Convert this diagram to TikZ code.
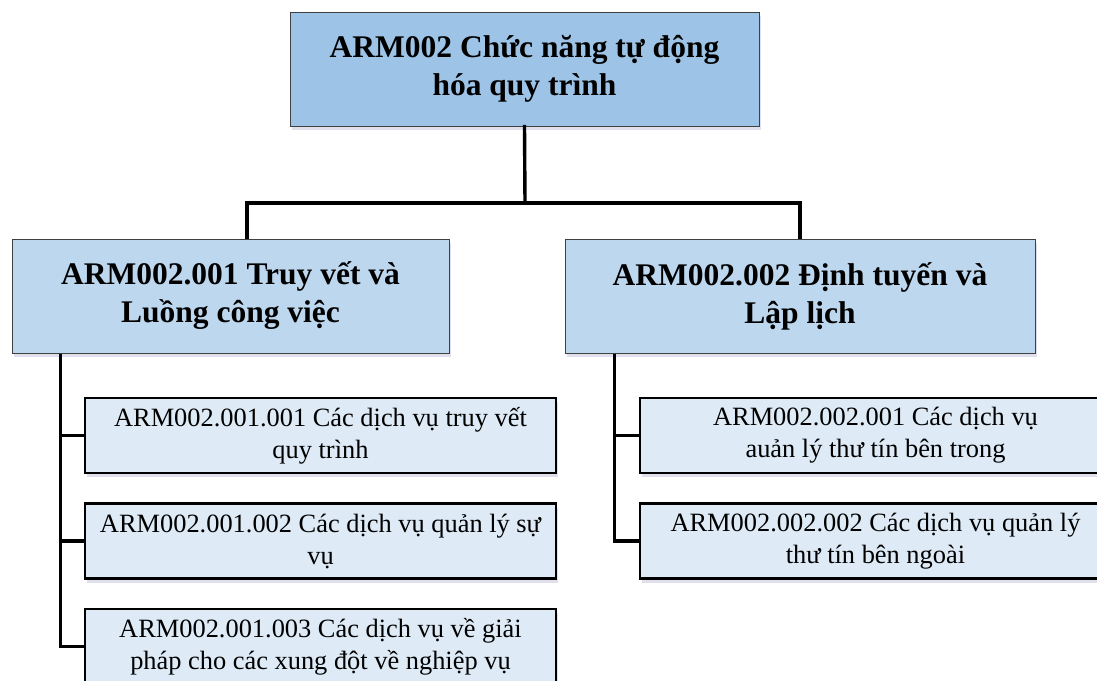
\documentclass[tikz,border=0pt]{standalone}
\usepackage{fontspec}
\setmainfont{Liberation Serif}
\usetikzlibrary{shadows}
\definecolor{topfill}{HTML}{9DC3E6}
\definecolor{midfill}{HTML}{BDD7EE}
\definecolor{leaffill}{HTML}{DEEBF7}
\definecolor{thinedge}{HTML}{404040}
\tikzset{
  softshadow/.style={drop shadow={opacity=0.12,shadow xshift=2pt,shadow yshift=-4pt,fill=black!60!blue}},
  topbox/.style={draw=thinedge,line width=1pt,fill=topfill,softshadow,inner sep=0pt,align=center,
    font=\fontsize{31.5}{38}\selectfont\bfseries},
  midbox/.style={draw=thinedge,line width=1pt,fill=midfill,softshadow,inner sep=0pt,align=center,
    minimum height=114pt,font=\fontsize{31.5}{38}\selectfont\bfseries},
  leafbox/.style={draw=black,line width=2.4pt,fill=leaffill,softshadow,inner sep=0pt,align=center,
    minimum width=471pt,minimum height=75pt,font=\fontsize{26.4}{32}\selectfont},
  conn/.style={draw=black,line width=3.4pt,line join=miter,line cap=butt}
}
\begin{document}
\begin{tikzpicture}[x=1pt,y=-1pt]
\useasboundingbox (0,0) rectangle (1097,680);
\node[topbox,minimum width=469pt,minimum height=114pt] (top) at (524.5,69) {ARM002 Chức năng tự động\\hóa quy trình};
\node[midbox,minimum width=437pt] (L1) at (230.5,296) {ARM002.001 Truy vết và\\Luồng công việc};
\node[midbox,minimum width=470pt] (R1) at (800,296) {ARM002.002 Định tuyến và\\Lập lịch};
\node[leafbox] (c1) at (320.5,435.5) {ARM002.001.001 Các dịch vụ truy vết\\quy trình};
\node[leafbox] (c2) at (320.5,541) {ARM002.001.002 Các dịch vụ quản lý sự\\vụ};
\node[leafbox] (c3) at (320.5,646.5) {ARM002.001.003 Các dịch vụ về giải\\pháp cho các xung đột về nghiệp vụ};
\node[leafbox] (d1) at (875.5,435.5) {ARM002.002.001 Các dịch vụ\\auản lý thư tín bên trong};
\node[leafbox] (d2) at (875.5,541) {ARM002.002.002 Các dịch vụ quản lý\\thư tín bên ngoài};
\coordinate (bus) at (525,203);
\coordinate (ltop) at ([xshift=16.5pt]L1.north);
\draw[conn,line cap=rect] (top.south) -- (bus);
\draw[conn] (ltop) |- (bus) -| (R1.north);
\coordinate (lt) at ([xshift=49pt]L1.south west);
\coordinate (rt) at ([xshift=50pt]R1.south west);
\draw[conn] (lt) |- (c3.west);
\draw[conn] (lt |- c1.west) -- (c1.west);
\draw[conn] (lt |- c2.west) -- (c2.west);
\draw[conn] (rt) |- (d2.west);
\draw[conn] (rt |- d1.west) -- (d1.west);
\end{tikzpicture}
\end{document}
